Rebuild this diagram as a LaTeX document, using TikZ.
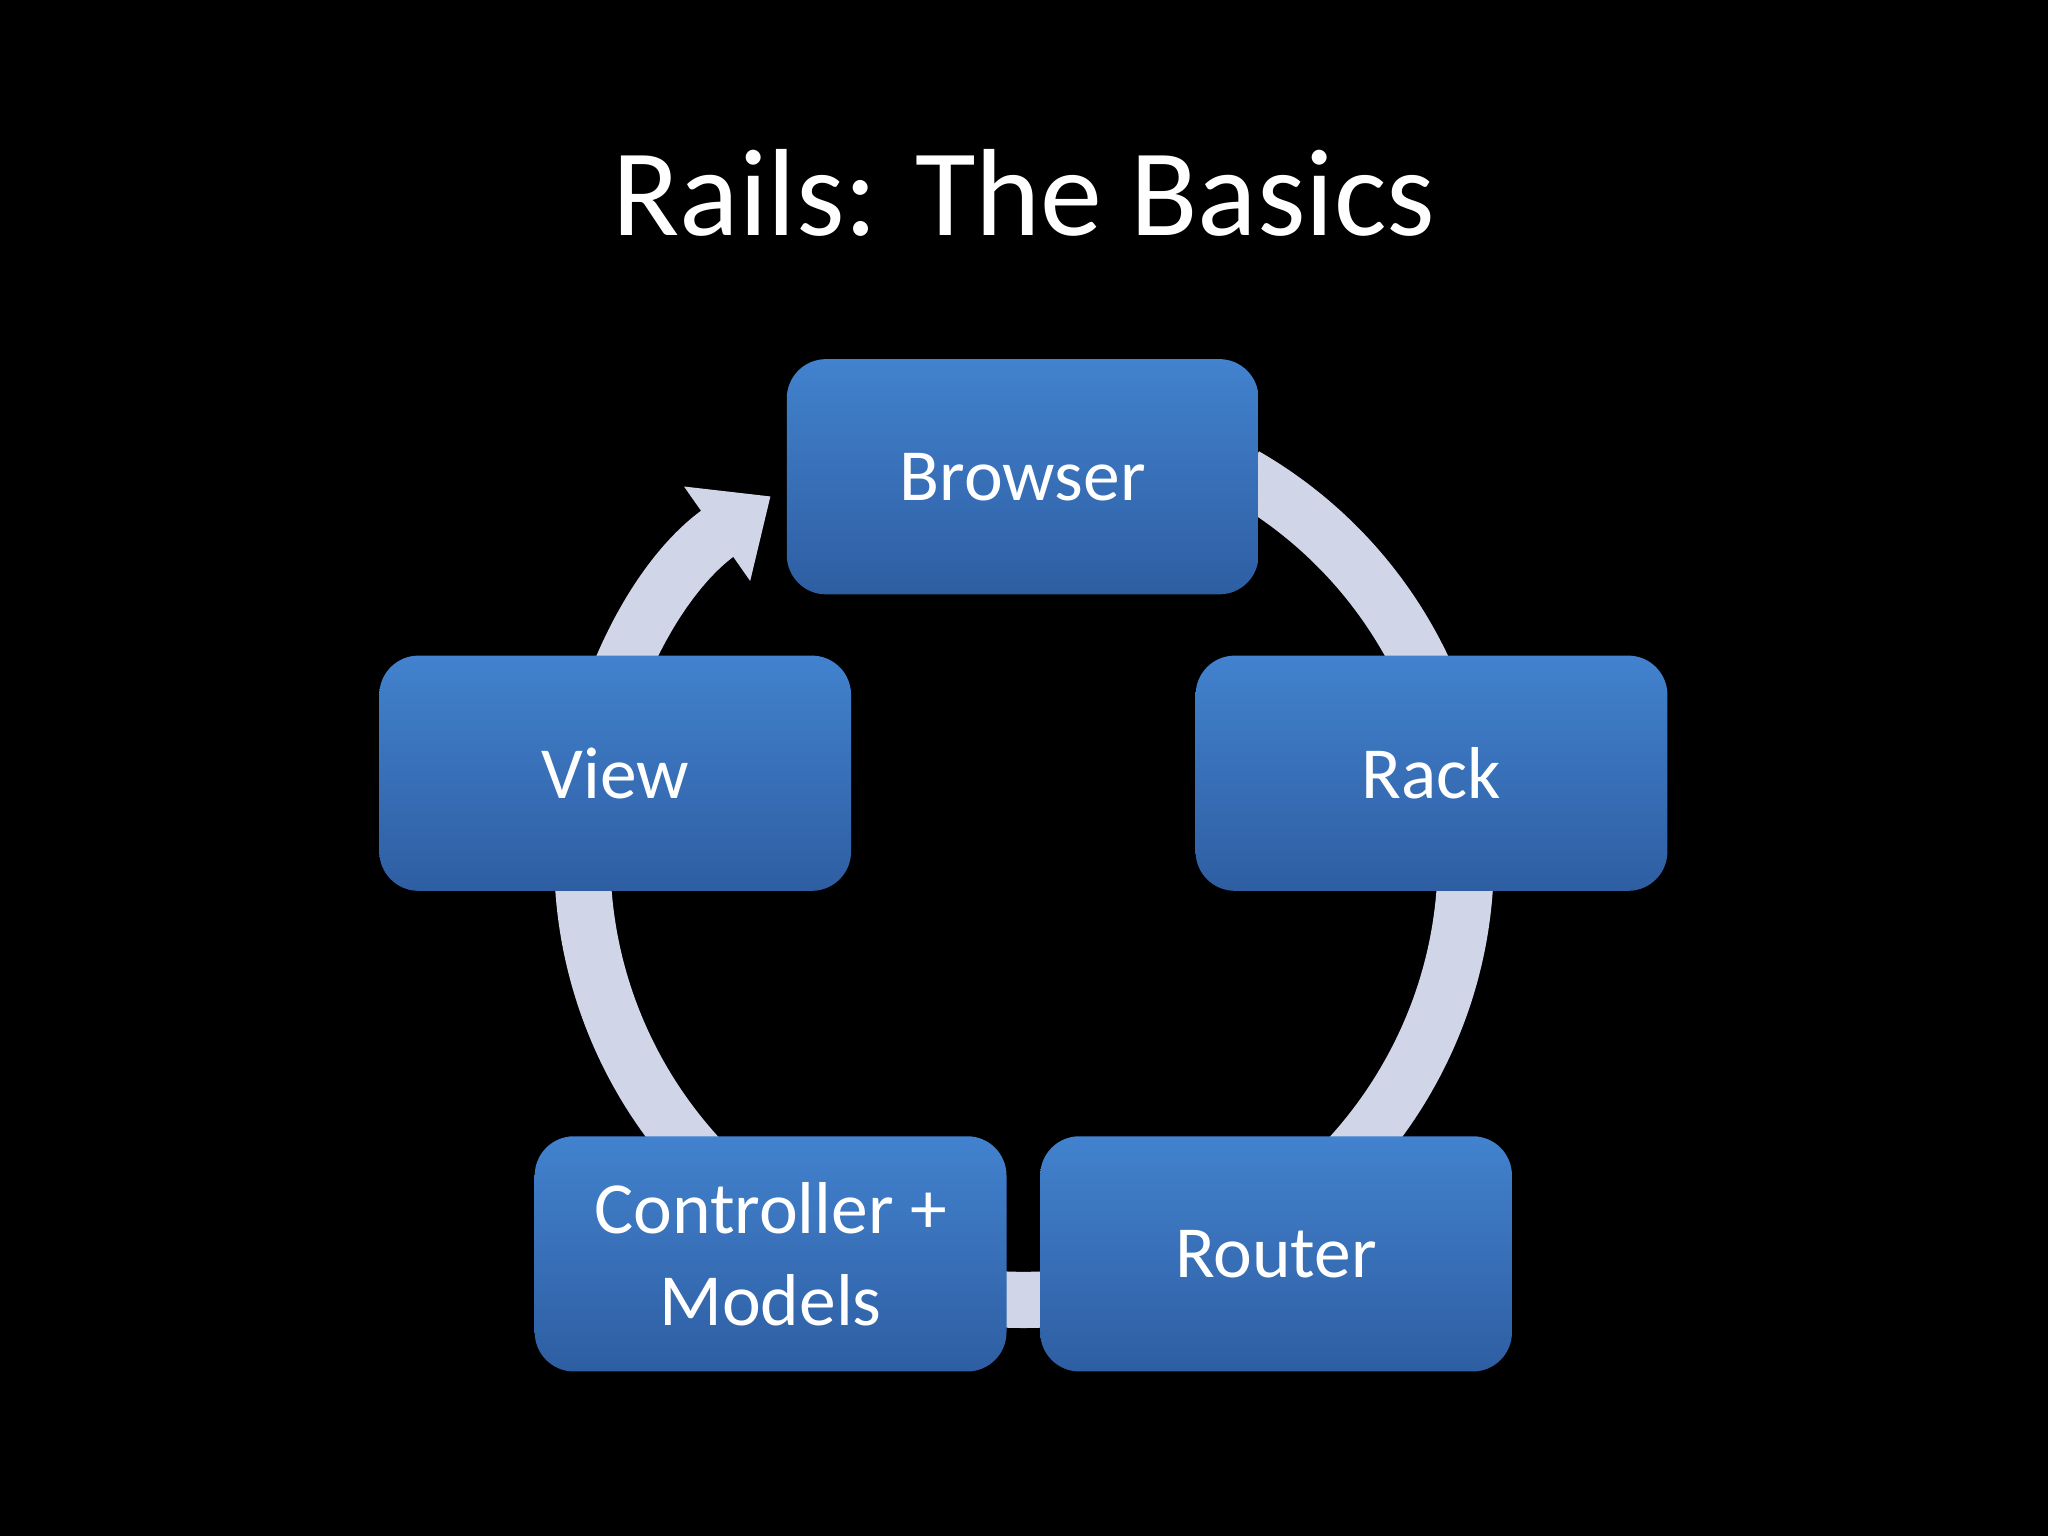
\documentclass[tikz,border=0pt]{standalone}
\usepackage{fontspec}
\setmainfont{Carlito}
\usetikzlibrary{arrows.meta}
\definecolor{ring}{RGB}{208,214,232}
\definecolor{btop}{RGB}{66,130,206}
\definecolor{bbot}{RGB}{46,94,162}
\begin{document}
\begin{tikzpicture}[x=0.01cm,y=-0.01cm,
  box/.style={rounded corners=0.3cm,minimum width=3.61cm,minimum height=1.8cm,
    top color=btop,bottom color=bbot,draw=none,text=white,font=\fontsize{16}{20}\selectfont,align=center}]
\fill[black] (0,0) rectangle (1568,1176);
\node[text=white,font=\fontsize{27}{32}\selectfont] (title) at (784,148) {Rails: The Basics};
\coordinate (c) at (784,657);
\draw[ring,line width=0.43cm,-{Triangle[width=0.85cm,length=0.5cm]}]
  ([shift={(60:3.38cm)}]c) arc[start angle=60,end angle=-235,radius=3.38cm];
\node[box] (browser) at (783,365) {Browser};
\node[box] (rack) at (1096,592) {Rack};
\node[box] (router) at (977,960) {Router};
\node[box] (ctrl) at (590,960) {Controller +\\Models};
\node[box] (view) at (471,592) {View};
\end{tikzpicture}
\end{document}
